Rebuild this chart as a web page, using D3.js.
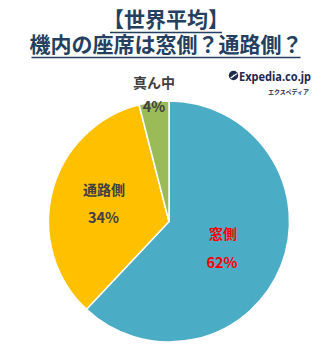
<!DOCTYPE html>
<html>
<head>
<meta charset="utf-8">
<script src="https://cdn.jsdelivr.net/npm/d3@7/dist/d3.min.js"></script>
<style>
  html, body { margin: 0; padding: 0; background: #fff; }
  svg { display: block; }
</style>
</head>
<body>
<script>
// Seat preference, world average (share of respondents, %)
const categories = ["窓側", "通路側", "真ん中"];
const values = [62, 34, 4];
const colors = ["#4BACC6", "#FFC000", "#9BBB59"];
const labelColors = ["#FF0000", "#404040", "#404040"];
const titleLines = ["【世界平均】", "機内の座席は窓側？通路側？"];

const W = 333, H = 347;
const font = "'Noto Sans CJK JP', 'Noto Sans', sans-serif";

const svg = d3.select("body").append("svg")
  .attr("width", W).attr("height", H);

// Title with underlines
const titleColor = "#243F60";
const titleY = [27, 52];
titleLines.forEach((t, i) => {
  const txt = svg.append("text")
    .attr("x", 166).attr("y", titleY[i])
    .attr("text-anchor", "middle")
    .attr("font-family", font)
    .attr("font-weight", "bold")
    .attr("font-size", 21)
    .attr("fill", titleColor)
    .text(t);
  const bb = txt.node().getBBox();
  const x0 = i === 0 ? bb.x + 7 : bb.x + 2;
  const x1 = i === 0 ? bb.x + bb.width - 7 : bb.x + bb.width - 2;
  svg.append("line")
    .attr("x1", x0).attr("x2", x1)
    .attr("y1", titleY[i] + 5.5).attr("y2", titleY[i] + 5.5)
    .attr("stroke", titleColor).attr("stroke-width", 1.5);
});

// Brand mark
const logo = svg.append("g");
logo.append("circle").attr("cx", 233.5).attr("cy", 75.5).attr("r", 4.7).attr("fill", "#1E2A4F");
logo.append("path")
  .attr("d", "M230.2,77.5 L236.6,73.2 L237.4,74 L231.2,78.4 Z M232.5,74.3 L234.6,75.4 L233.8,76 Z")
  .attr("fill", "#fff");
logo.append("text")
  .attr("x", 239).attr("y", 80.5)
  .attr("font-family", "'Noto Sans', sans-serif")
  .attr("font-weight", "bold")
  .attr("font-size", 12.5)
  .attr("fill", "#1E2A4F")
  .attr("textLength", 72)
  .attr("lengthAdjust", "spacingAndGlyphs")
  .text("Expedia.co.jp");
logo.append("text")
  .attr("x", 288.5).attr("y", 93.5)
  .attr("text-anchor", "middle")
  .attr("font-family", font)
  .attr("font-weight", "bold")
  .attr("font-size", 6)
  .attr("fill", "#1E2A4F")
  .text("エクスペディア");

// Pie
const cx = 169, cy = 221.5, r = 120.5;
const pie = d3.pie().sort(null).value(d => d)(values);
const arc = d3.arc().innerRadius(0).outerRadius(r);

const g = svg.append("g").attr("transform", `translate(${cx},${cy})`);
g.selectAll("path").data(pie).join("path")
  .attr("d", arc)
  .attr("fill", (d, i) => colors[i])
  .attr("stroke", "#fff")
  .attr("stroke-width", 1.5)
  .attr("stroke-linejoin", "round");

// Labels: name above value
const namePos = [[223, 238.5], [104, 194.5], [154, 88]];
const valuePos = [[222, 268], [103.5, 222.5], [154, 112]];
categories.forEach((c, i) => {
  svg.append("text")
    .attr("x", namePos[i][0]).attr("y", namePos[i][1])
    .attr("text-anchor", "middle")
    .attr("font-family", font)
    .attr("font-weight", "bold")
    .attr("font-size", 14)
    .attr("fill", labelColors[i])
    .text(c);
  svg.append("text")
    .attr("x", valuePos[i][0]).attr("y", valuePos[i][1])
    .attr("text-anchor", "middle")
    .attr("font-family", font)
    .attr("font-weight", "bold")
    .attr("font-size", 14.5)
    .attr("fill", labelColors[i])
    .text(values[i] + "%");
});
</script>
</body>
</html>
